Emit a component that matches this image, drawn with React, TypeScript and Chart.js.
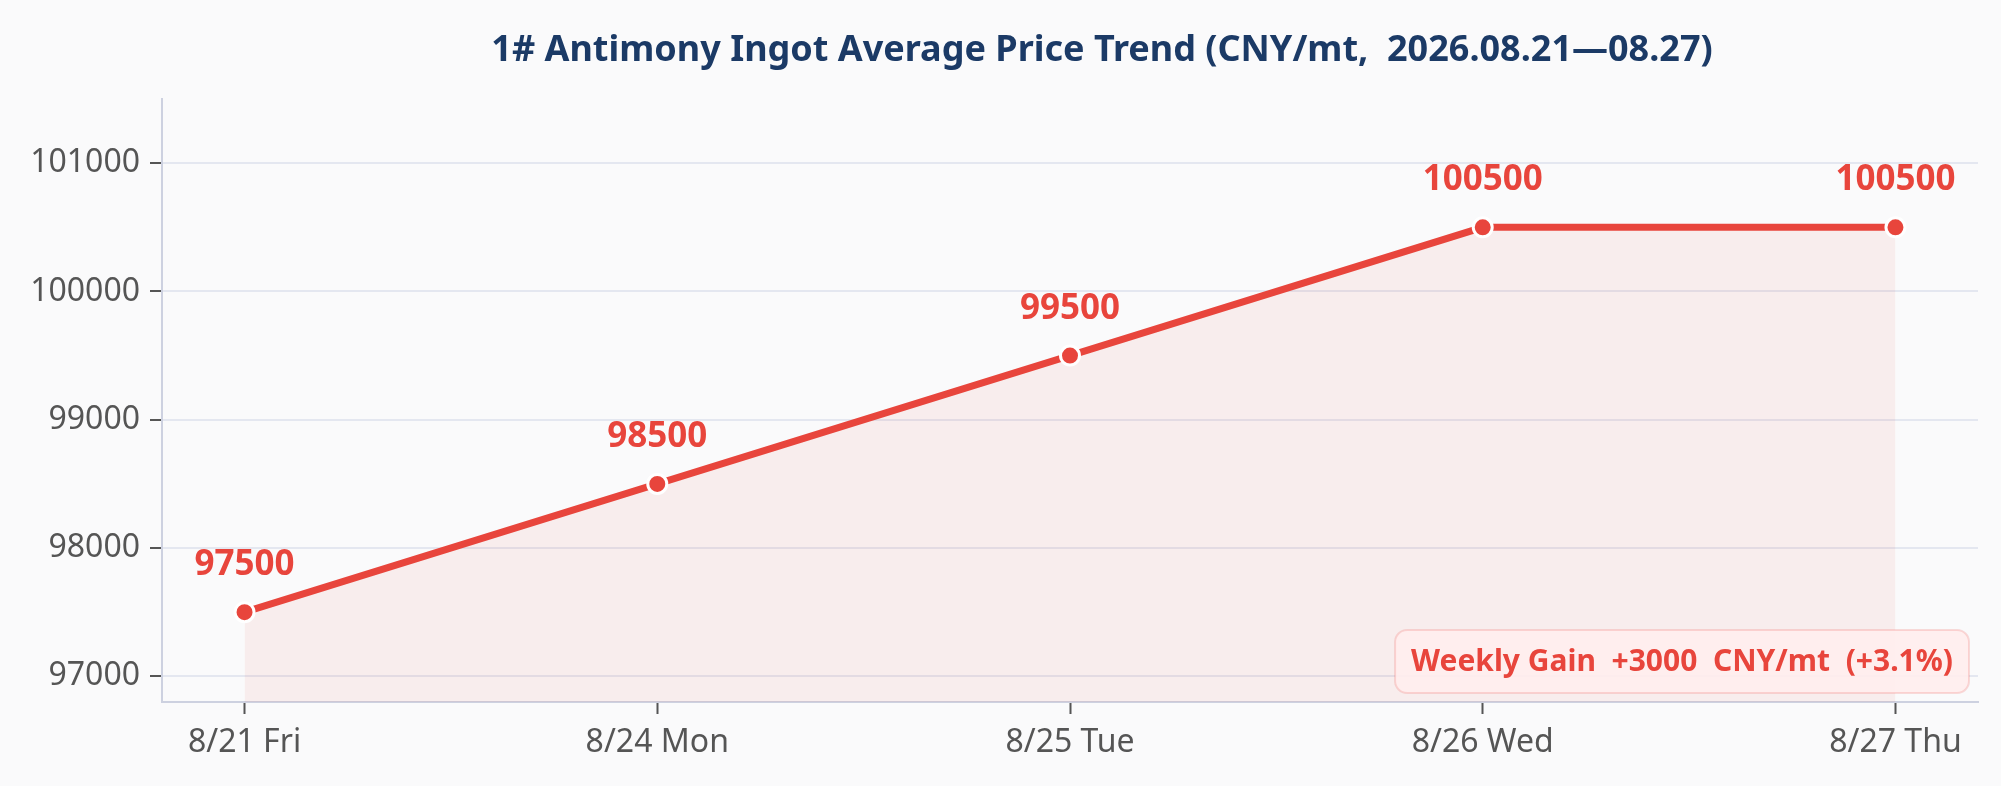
import { useEffect, useRef } from "react";
import Chart from "chart.js/auto";

const days = ["8/21 Fri", "8/24 Mon", "8/25 Tue", "8/26 Wed", "8/27 Thu"];
const prices = [97500, 98500, 99500, 100500, 100500];
const yTicks = [97000, 98000, 99000, 100000, 101000];

const titleText = "1# Antimony Ingot Average Price Trend (CNY/mt,  2026.08.21\u201408.27)";
const gainText = "Weekly Gain  +3000  CNY/mt  (+3.1%)";

const FONT = "'Noto Sans', 'Open Sans', sans-serif";
const RED = "#e8453c";

const labelsPlugin = {
  id: "pointLabels",
  afterDatasetsDraw(chart: any) {
    const ctx = chart.ctx;
    const meta = chart.getDatasetMeta(0);
    ctx.save();
    ctx.font = `bold 35px ${FONT}`;
    ctx.fillStyle = RED;
    ctx.textAlign = "center";
    ctx.textBaseline = "alphabetic";
    meta.data.forEach((pt: any, i: number) => {
      ctx.fillText(String(prices[i]), pt.x, pt.y - 37);
    });
    ctx.restore();
  },
};

const extrasPlugin = {
  id: "extras",
  afterDraw(chart: any) {
    const ctx = chart.ctx;
    const area = chart.chartArea;
    ctx.save();
    // title
    ctx.font = `bold 36px ${FONT}`;
    ctx.fillStyle = "#1b3a66";
    ctx.textAlign = "center";
    ctx.textBaseline = "middle";
    ctx.fillText(titleText, 1102, 51);

    // gain box
    ctx.font = `bold 30px ${FONT}`;
    const w = ctx.measureText(gainText).width + 32;
    const h = 63;
    const x = area.right - 9 - w;
    const y = area.bottom - 9 - h;
    ctx.beginPath();
    ctx.roundRect(x, y, w, h, 12);
    ctx.fillStyle = "rgba(255, 238, 238, 0.92)";
    ctx.fill();
    ctx.lineWidth = 2;
    ctx.strokeStyle = "rgba(232, 69, 60, 0.18)";
    ctx.stroke();
    ctx.fillStyle = RED;
    ctx.textAlign = "center";
    ctx.fillText(gainText, x + w / 2, y + h / 2 + 1);
    ctx.restore();
  },
};

export default function App() {
  const chartRef = useRef<HTMLCanvasElement>(null);

  useEffect(() => {
    document.body.style.margin = "0";
    document.body.style.background = "#fafafb";
    if (chartRef && chartRef.current) {
      const chartInstance = new Chart(chartRef.current, {
        type: "line",
        data: {
          datasets: [
            {
              data: prices.map((p, i) => ({ x: i, y: p })),
              borderColor: RED,
              borderWidth: 7,
              backgroundColor: "rgba(232, 69, 60, 0.07)",
              fill: "start",
              pointRadius: 9.5,
              pointBorderWidth: 3,
              pointBorderColor: "#ffffff",
              pointBackgroundColor: RED,
              tension: 0,
            },
          ],
        },
        options: {
          animation: false,
          responsive: true,
          maintainAspectRatio: false,
          layout: { padding: { top: 99, right: 23, left: 0, bottom: 0 } },
          plugins: {
            legend: { display: false },
            title: { display: false },
            tooltip: { enabled: false },
          },
          scales: {
            x: {
              type: "linear",
              min: -0.2,
              max: 4.2,
              afterBuildTicks: (scale: any) => {
                scale.ticks = days.map((_, i) => ({ value: i }));
              },
              afterFit: (scale: any) => {
                scale.height = 84;
              },
              ticks: {
                callback: (v: any) => days[v],
                color: "#555555",
                font: { size: 32, family: FONT },
                padding: 10,
                maxRotation: 0,
              },
              grid: {
                drawOnChartArea: false,
                tickLength: 12,
                tickColor: "#555555",
                tickWidth: 2,
              },
              border: { color: "#cdd1e0", width: 2 },
            },
            y: {
              min: 96800,
              max: 101500,
              afterBuildTicks: (scale: any) => {
                scale.ticks = yTicks.map((v) => ({ value: v }));
              },
              afterFit: (scale: any) => {
                scale.width = 162;
              },
              ticks: {
                callback: (v: any) => String(v),
                color: "#555555",
                font: { size: 32, family: FONT },
                padding: 10,
              },
              grid: {
                color: "#e4e7f0",
                lineWidth: 2,
                tickLength: 12,
                tickColor: "#555555",
                tickWidth: 2,
              },
              border: { color: "#cdd1e0", width: 2 },
            },
          },
        },
        plugins: [labelsPlugin, extrasPlugin],
      });

      return () => {
        chartInstance.destroy();
      };
    }
  }, []);

  return (
    <div style={{ width: "2001px", height: "786px", position: "relative" }}>
      <canvas ref={chartRef} />
    </div>
  );
}
